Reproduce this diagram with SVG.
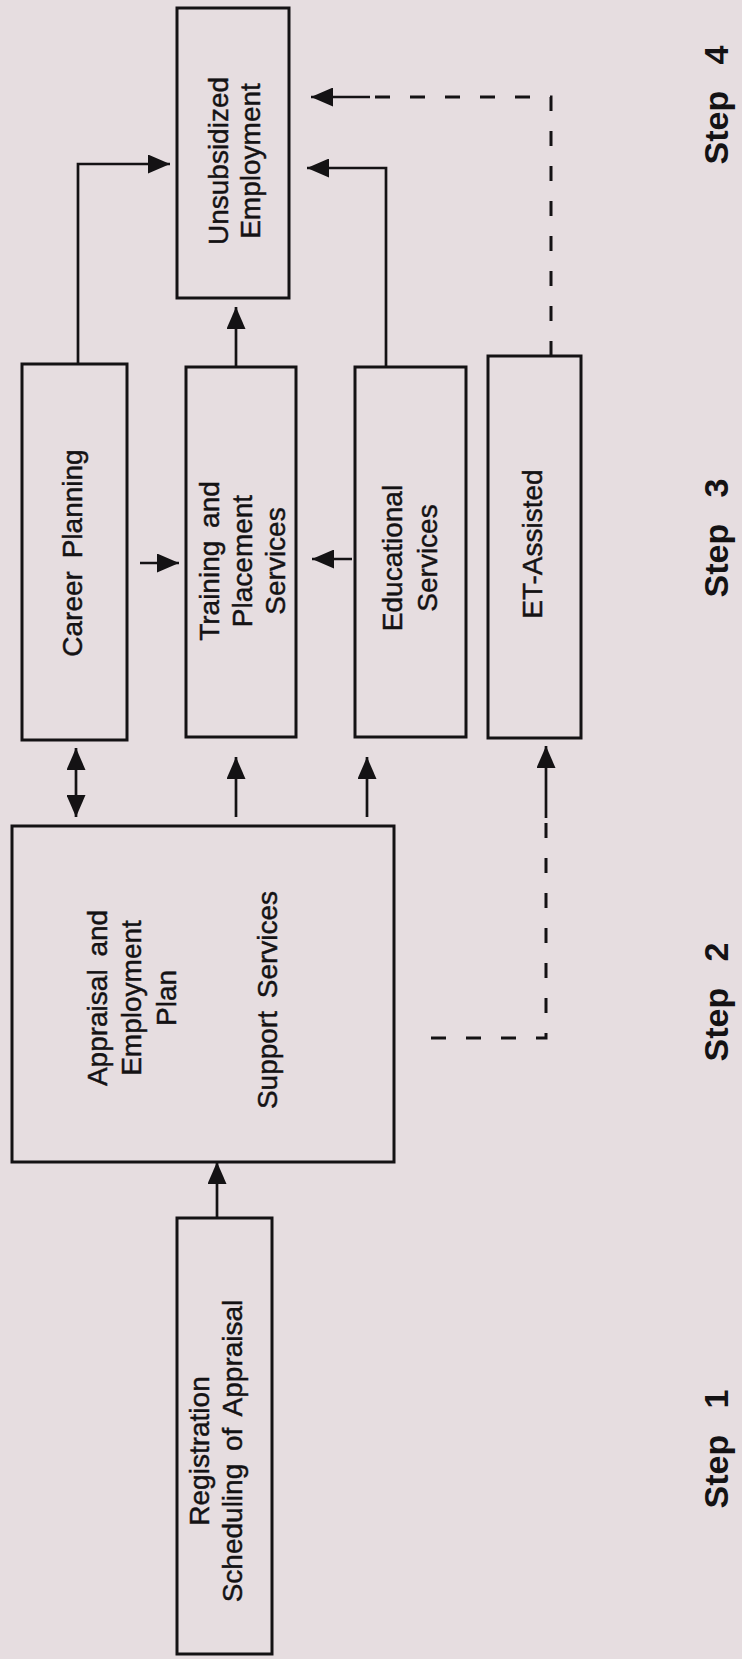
<svg xmlns="http://www.w3.org/2000/svg" width="742" height="1659" viewBox="0 0 742 1659">
<style>
.box{fill:none;stroke:#141214;stroke-width:3}
.ln{fill:none;stroke:#141214;stroke-width:2.7}
.dash{fill:none;stroke:#141214;stroke-width:3;stroke-dasharray:15 20}
.t{font-family:"Liberation Sans",Arial,Helvetica,sans-serif;font-size:28px;fill:#141214;stroke:#141214;stroke-width:0.45;text-anchor:middle;word-spacing:5px}
.step{font-family:"Liberation Sans",Arial,Helvetica,sans-serif;font-size:34px;font-weight:bold;fill:#141214;text-anchor:middle;word-spacing:17px}
</style>
<defs>
<marker id="ah" markerUnits="userSpaceOnUse" markerWidth="22" markerHeight="19" refX="22" refY="9.5" orient="auto-start-reverse" viewBox="0 0 22 19">
<path d="M0,0 L22,9.5 L0,19 z" fill="#141214"/>
</marker>
</defs>
<rect width="742" height="1659" fill="#e6dde0"/>

<g id="connectors">
<path class="ln" d="M78,364 V164 H170" marker-end="url(#ah)"/>
<path class="ln" d="M236,367 V307" marker-end="url(#ah)"/>
<path class="ln" d="M386,367 V168 H307" marker-end="url(#ah)"/>
<path class="dash" d="M551,356 V97 H372"/>
<path class="ln" d="M370,97 H311" marker-end="url(#ah)"/>
<path class="ln" d="M76,817 V748" marker-start="url(#ah)" marker-end="url(#ah)"/>
<path class="ln" d="M236,817 V757" marker-end="url(#ah)"/>
<path class="ln" d="M367,817 V757" marker-end="url(#ah)"/>
<path class="dash" d="M431,1038 H546 V817"/>
<path class="ln" d="M546,818 V746" marker-end="url(#ah)"/>
<path class="ln" d="M217,1218 V1162" marker-end="url(#ah)"/>
<path class="ln" d="M140,563 H179" marker-end="url(#ah)"/>
<path class="ln" d="M352,559 H312" marker-end="url(#ah)"/>
</g>

<g id="unsubsidized">
<rect class="box" x="177" y="8" width="112" height="290"/>
<text class="t" transform="translate(0,161) rotate(-90)"><tspan x="0" y="228">Unsubsidized</tspan><tspan x="0" y="260">Employment</tspan></text>
</g>

<g id="career">
<rect class="box" x="22" y="364" width="105" height="376"/>
<text class="t" transform="translate(0,553) rotate(-90)"><tspan x="0" y="82">Career Planning</tspan></text>
</g>

<g id="training">
<rect class="box" x="186" y="367" width="110" height="370"/>
<text class="t" transform="translate(0,561) rotate(-90)"><tspan x="0" y="219">Training and</tspan><tspan x="0" y="252">Placement</tspan><tspan x="0" y="285">Services</tspan></text>
</g>

<g id="educational">
<rect class="box" x="355" y="367" width="111" height="370"/>
<text class="t" transform="translate(0,558) rotate(-90)"><tspan x="0" y="402">Educational</tspan><tspan x="0" y="437">Services</tspan></text>
</g>

<g id="et-assisted">
<rect class="box" x="488" y="356" width="93" height="382"/>
<text class="t" transform="translate(0,544) rotate(-90)"><tspan x="0" y="542">ET-Assisted</tspan></text>
</g>

<g id="appraisal">
<rect class="box" x="12" y="826" width="382" height="336"/>
<text class="t" transform="translate(0,998) rotate(-90)"><tspan x="0" y="107">Appraisal and</tspan><tspan x="0" y="141">Employment</tspan><tspan x="0" y="176">Plan</tspan></text>
<text class="t" transform="translate(0,1000) rotate(-90)"><tspan x="0" y="277">Support Services</tspan></text>
</g>

<g id="registration">
<rect class="box" x="177" y="1218" width="95" height="436"/>
<text class="t" transform="translate(0,1451) rotate(-90)"><tspan x="0" y="209">Registration</tspan><tspan x="0" y="242">Scheduling of Appraisal</tspan></text>
</g>

<g id="steps">
<text class="step" transform="translate(728,1449) rotate(-90)">Step 1</text>
<text class="step" transform="translate(728,1002) rotate(-90)">Step 2</text>
<text class="step" transform="translate(728,538) rotate(-90)">Step 3</text>
<text class="step" transform="translate(728,105) rotate(-90)">Step 4</text>
</g>
</svg>
